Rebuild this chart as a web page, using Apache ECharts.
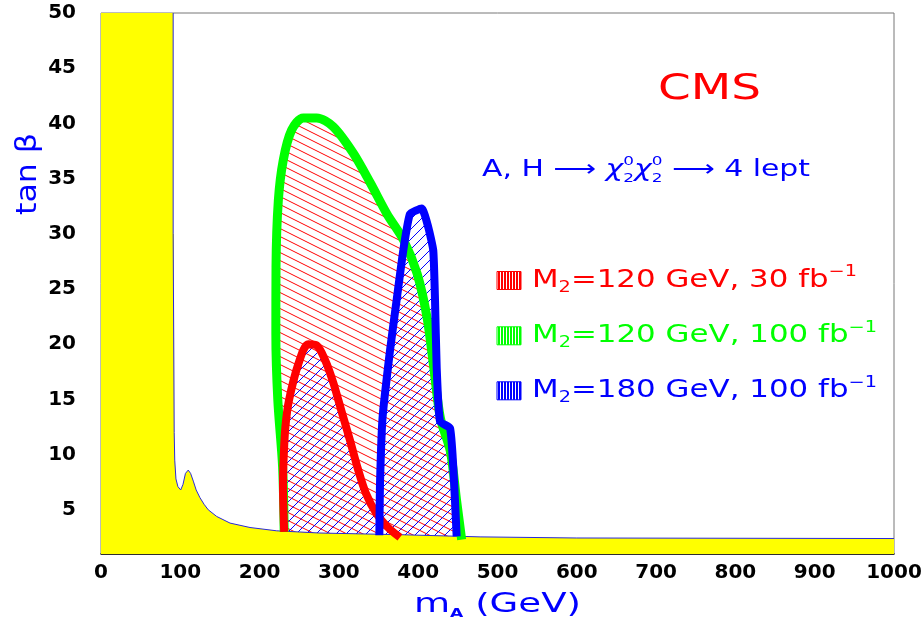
<!DOCTYPE html>
<html><head><meta charset="utf-8">
<script src="https://cdn.jsdelivr.net/npm/echarts@6/dist/echarts.min.js"></script>
<style>html,body{margin:0;padding:0;background:#fff}#c{width:924px;height:627px}</style>
</head><body><div id="c"></div>
<script>
// ---------------- data ----------------
const xRange = [0, 1000];
const yRange = [1, 50];
const yTickLabels = [5, 10, 15, 20, 25, 30, 35, 40, 45, 50];

// LEP excluded region boundary (m_A, tan beta)
const lepBoundary = [
  [91, 50], [91, 30], [92, 30], [92.3, 12], [93, 9.5], [94.5, 7.8], [97, 7.1], [100.5, 6.8],
  [103.4, 7.3], [106.5, 8.3], [110, 8.6], [113, 8.3], [116.4, 7.6], [120, 6.8], [124.8, 6.1],
  [130, 5.5], [135.3, 5.0], [145.9, 4.4], [162.7, 3.8], [187.9, 3.4], [221.6, 3.1], [276, 2.9],
  [377, 2.75], [478, 2.55], [600, 2.45], [1000, 2.4]
];

// M2 = 120 GeV, 100 fb-1
const green100 = [
  [231, 3.0], [229, 8.9], [223, 14.9], [220.5, 20.9], [220.7, 27.0], [223.6, 33.0], [229.9, 36.7],
  [240.4, 39.4], [255.1, 40.5], [271.9, 40.5], [292.9, 39.7], [318.2, 37.3], [339.7, 34.6],
  [360.6, 31.8], [381.8, 29.4], [398.6, 26.4], [411.2, 22.4], [419.6, 17.9], [428.0, 13.3],
  [440.6, 10.3], [448.5, 5.8], [454.8, 2.3]
];

// M2 = 120 GeV, 30 fb-1
const red30 = [
  [231, 3.0], [229.5, 7.3], [230.5, 10], [232.5, 12.5], [237, 14.9], [248.8, 18.2], [261.4, 20.0],
  [271.9, 19.9], [283, 18.5], [293, 16.5], [303, 14.0], [314, 11.3], [324, 8.7], [334, 6.5],
  [347, 4.7], [362, 3.4], [377, 2.5]
];

// M2 = 180 GeV, 100 fb-1
const blue100 = [
  [351.0, 2.7], [351.8, 7.3], [355, 13.3], [364.4, 19.4], [372.8, 24.0], [381.2, 28.5],
  [389.7, 31.8], [404.4, 32.3], [412.7, 30.6], [419.0, 28.5], [421.2, 24.0], [423.3, 17.9],
  [427.5, 13.0], [440.1, 12.4], [444.3, 8.8], [446.4, 5.8], [448.5, 2.6]
];

const seriesNames = ['M2=120 GeV, 30 fb-1', 'M2=120 GeV, 100 fb-1', 'M2=180 GeV, 100 fb-1'];
const legendLumi = ['30', '100', '100'];
const legendMass = ['120', '120', '180'];

// ---------------- styling helpers ----------------
const RED = '#ff0000', GREEN = '#00ff00', BLUE = '#0000ff', YELLOW = '#ffff00';

function hatch(color, kind) {
  const c = document.createElement('canvas');
  let g;
  if (kind === 'back') {           // "\" lines, slope 1/2
    c.width = 16; c.height = 8;
    g = c.getContext('2d');
    g.strokeStyle = color; g.lineWidth = 1;
    g.beginPath();
    for (let k = -1; k <= 1; k++) { g.moveTo(0, k * 8 + 0.5); g.lineTo(16, k * 8 + 8.5); }
  } else {                          // "/" lines, 45 deg
    c.width = 10; c.height = 10;
    g = c.getContext('2d');
    g.strokeStyle = color; g.lineWidth = 1;
    g.beginPath();
    for (let k = -1; k <= 1; k++) { g.moveTo(0, 10 + k * 10); g.lineTo(10, k * 10); }
  }
  g.stroke();
  return { image: c, repeat: 'repeat' };
}
function stripes(color) {
  const c = document.createElement('canvas');
  c.width = 3; c.height = 20;
  const g = c.getContext('2d');
  g.fillStyle = color; g.fillRect(0, 0, 3, 20);
  g.fillStyle = '#ffffff'; g.fillRect(2, 0, 1, 20);
  return { image: c, repeat: 'repeat' };
}

function polygonRenderer(points, fill) {
  return function (params, api) {
    if (params.dataIndex !== 0) return null;
    return {
      type: 'polygon',
      shape: { points: points.map(p => api.coord(p)) },
      style: { fill: fill, stroke: null }
    };
  };
}

const mctx = document.createElement('canvas').getContext('2d');
const FAM = '"DejaVu Sans"';
function textGroup(pieces, left, cy, width, color) {
  let x = 0, prevStart = 0;
  const children = [];
  pieces.forEach(p => {
    const w8 = p.w || 'normal', st = p.it ? 'italic' : 'normal';
    mctx.font = st + ' ' + w8 + ' ' + p.s + 'px ' + FAM;
    const w = mctx.measureText(p.t).width;
    const px = p.stack ? prevStart : x;
    children.push({
      type: 'text', x: px, y: p.dy || 0, silent: true,
      style: { text: p.t, fontSize: p.s, fontFamily: 'DejaVu Sans', fontWeight: w8, fontStyle: st,
               fill: color, align: 'left', verticalAlign: 'middle' }
    });
    if (p.stack) { x = Math.max(x, px + w); } else { prevStart = px; x = px + w; }
  });
  return { type: 'group', x: left, y: cy, scaleX: width / x, children: children };
}

// ---------------- graphic texts ----------------
const graphics = [];
graphics.push(textGroup([{ t: 'CMS', s: 36 }], 658, 89.5, 103, RED));
graphics.push(textGroup([
  { t: 'A, H ', s: 23 }, { t: '⟶', s: 23 }, { t: ' ', s: 23 },
  { t: 'χ', s: 23, it: true }, { t: '2', s: 13, dy: 9 }, { t: '0', s: 13, dy: -8, stack: true },
  { t: 'χ', s: 23, it: true }, { t: '2', s: 13, dy: 9 }, { t: '0', s: 13, dy: -8, stack: true },
  { t: ' ', s: 23 }, { t: '⟶', s: 23 }, { t: ' 4 lept', s: 23 }
], 482, 170, 328, BLUE));

const legendColors = [RED, GREEN, BLUE];
const legendY = [280.5, 335.8, 390.8];
const legendW = [325, 345, 345];
for (let i = 0; i < 3; i++) {
  graphics.push({
    type: 'rect', silent: true,
    shape: { x: 497, y: legendY[i] - 9, width: 24, height: 18 },
    style: { fill: stripes(legendColors[i]), stroke: legendColors[i], lineWidth: 1 }
  });
  graphics.push(textGroup([
    { t: 'M', s: 24 }, { t: '2', s: 15, dy: 7.5 },
    { t: '=' + legendMass[i] + ' GeV, ' + legendLumi[i] + ' fb', s: 24 },
    { t: '−1', s: 15, dy: -8 }
  ], 532, legendY[i], legendW[i], legendColors[i]));
}
graphics.push(textGroup([{ t: 'Excluded by LEP', s: 18 }], 115, 540, 198, '#ff00ff'));
graphics.push(textGroup([
  { t: 'm', s: 26 }, { t: 'A', s: 12, dy: 9, w: 'bold' }, { t: ' (GeV)', s: 26 }
], 414, 605, 167, BLUE));
// rotated y-axis name
(function () {
  const inner = textGroup([{ t: 'tan β', s: 28 }], -41, 0, 82, BLUE);
  graphics.push({ type: 'group', x: 28.5, y: 174, rotation: Math.PI / 2, children: [inner] });
})();

// ---------------- chart ----------------
const chart = echarts.init(document.getElementById('c'), null, { renderer: 'canvas' });
const lepPolygon = [[xRange[0], yRange[0]], [xRange[0], yRange[1]]].concat(lepBoundary, [[xRange[1], yRange[0]]]);

chart.setOption({
  animation: false,
  backgroundColor: '#ffffff',
  grid: { left: 101, right: 30, top: 13, bottom: 73, show: true, borderColor: '#777777', borderWidth: 1,
          backgroundColor: '#ffffff', containLabel: false, outerBoundsMode: 'none' },
  xAxis: {
    type: 'value', min: xRange[0], max: xRange[1], interval: 100,
    axisLine: { show: true, onZero: false, lineStyle: { color: '#000', width: 1.5 } },
    axisTick: { show: false }, splitLine: { show: false },
    axisLabel: { fontFamily: 'DejaVu Sans', fontWeight: 'bold', fontSize: 20, color: '#000', margin: 9,
                 formatter: v => String(v), hideOverlap: false }
  },
  yAxis: {
    type: 'value', min: yRange[0], max: yRange[1],
    axisLine: { show: false }, axisTick: { show: false }, splitLine: { show: false },
    axisLabel: { customValues: yTickLabels, fontFamily: 'DejaVu Sans', fontWeight: 'bold', fontSize: 20, color: '#000', margin: 25,
                 formatter: v => String(v) }
  },
  series: [
    { type: 'custom', name: seriesNames[1] + ' area', data: green100, encode: { x: 0, y: 1 }, clip: true, z: 2, silent: true,
      renderItem: polygonRenderer(green100, hatch(RED, 'back')) },
    { type: 'custom', name: seriesNames[0] + ' area', data: red30, encode: { x: 0, y: 1 }, clip: true, z: 2, silent: true,
      renderItem: polygonRenderer(red30, hatch(BLUE, 'fwd')) },
    { type: 'custom', name: seriesNames[2] + ' area', data: blue100, encode: { x: 0, y: 1 }, clip: true, z: 2, silent: true,
      renderItem: polygonRenderer(blue100, hatch(BLUE, 'fwd')) },
    { type: 'custom', name: 'Excluded by LEP', data: lepPolygon, encode: { x: 0, y: 1 }, clip: true, z: 3, silent: true,
      renderItem: polygonRenderer(lepPolygon, YELLOW) },
    { type: 'line', name: 'LEP boundary', data: lepBoundary, showSymbol: false, symbol: 'none', z: 4, silent: true,
      lineStyle: { color: '#2a2ad8', width: 1 } },
    { type: 'line', name: seriesNames[1], data: green100, showSymbol: false, symbol: 'none', smooth: 0.3, z: 5, silent: true,
      lineStyle: { color: GREEN, width: 9, cap: 'butt', join: 'round' } },
    { type: 'line', name: seriesNames[0], data: red30, showSymbol: false, symbol: 'none', smooth: 0.3, z: 6, silent: true,
      lineStyle: { color: RED, width: 8, cap: 'butt', join: 'round' } },
    { type: 'line', name: seriesNames[2], data: blue100, showSymbol: false, symbol: 'none', smooth: 0.15, z: 7, silent: true,
      lineStyle: { color: BLUE, width: 8, cap: 'butt', join: 'round' } }
  ],
  graphic: graphics
});
</script>
</body></html>
